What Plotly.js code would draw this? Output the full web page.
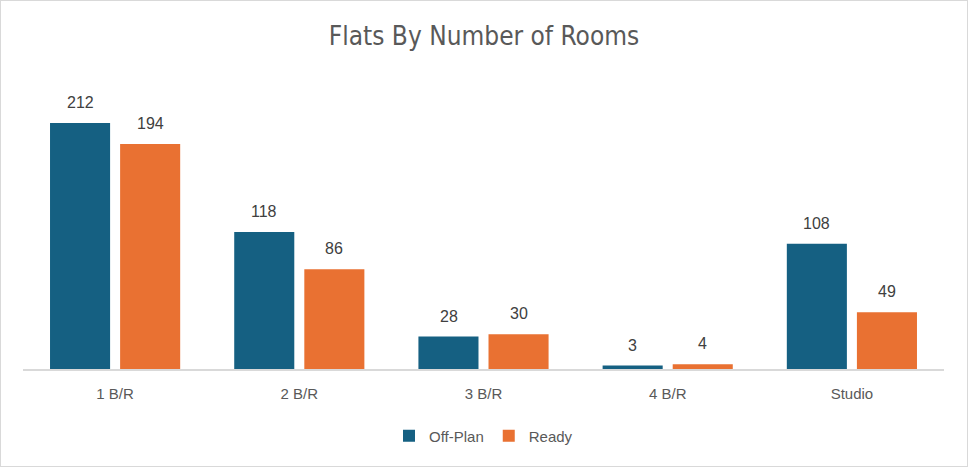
<!DOCTYPE html>
<html>
<head>
<meta charset="utf-8">
<script src="https://cdn.plot.ly/plotly-3.0.1.min.js"></script>
<style>
html,body{margin:0;padding:0;background:#fff;}
#chart{width:968px;height:467px;box-sizing:border-box;border:1px solid #d9d9d9;}
</style>
</head>
<body>
<div id="chart"></div>
<script>
const categories = ["1 B/R", "2 B/R", "3 B/R", "4 B/R", "Studio"];
const offPlan = [212, 118, 28, 3, 108];
const ready = [194, 86, 30, 4, 49];
const seriesNames = ["Off-Plan", "Ready"];
const colors = ["#156082", "#E97132"];

const labelFont = {family: "Liberation Sans, Arial, sans-serif", size: 16, color: "#404040"};

const traces = [offPlan, ready].map((vals, i) => ({
  type: "bar",
  name: seriesNames[i],
  x: categories,
  y: vals,
  marker: {color: colors[i]},
  hoverinfo: "x+y+name"
}));

const annotations = [];
[offPlan, ready].forEach((vals, i) => {
  vals.forEach((v, j) => {
    annotations.push({
      x: categories[j], y: v, xref: "x", yref: "y",
      text: String(v), showarrow: false,
      xshift: i === 0 ? -35 : 35,
      yanchor: "bottom", yshift: 10,
      font: labelFont
    });
  });
});

const layout = {
  width: 966, height: 465,
  margin: {l: 22, r: 23, t: 78, b: 97},
  paper_bgcolor: "#fff", plot_bgcolor: "#fff",
  title: {text: "Flats By Number of Rooms", x: 0.5, xanchor: "center", y: 0.925, yanchor: "middle",
    font: {family: "DejaVu Sans Condensed, Liberation Sans, sans-serif", size: 26, color: "#595959"}},
  barmode: "group",
  bargap: 0.239,
  bargroupgap: 0.143,
  xaxis: {
    showline: true, linecolor: "#d9d9d9", linewidth: 1.5,
    ticks: "", ticklabelstandoff: 10,
    tickfont: {family: "Liberation Sans, Arial, sans-serif", size: 15, color: "#595959"},
    showgrid: false, zeroline: false, fixedrange: true
  },
  yaxis: {
    range: [0, 250], visible: false, showgrid: false, zeroline: false, fixedrange: true
  },
  showlegend: true,
  legend: {orientation: "h", x: 0.5, xanchor: "center", y: -0.231, yanchor: "middle",
    font: {family: "Liberation Sans, Arial, sans-serif", size: 15, color: "#595959"},
    itemwidth: 30, traceorder: "normal"},
  annotations: annotations
};

Plotly.newPlot("chart", traces, layout, {displayModeBar: false});
</script>
</body>
</html>
